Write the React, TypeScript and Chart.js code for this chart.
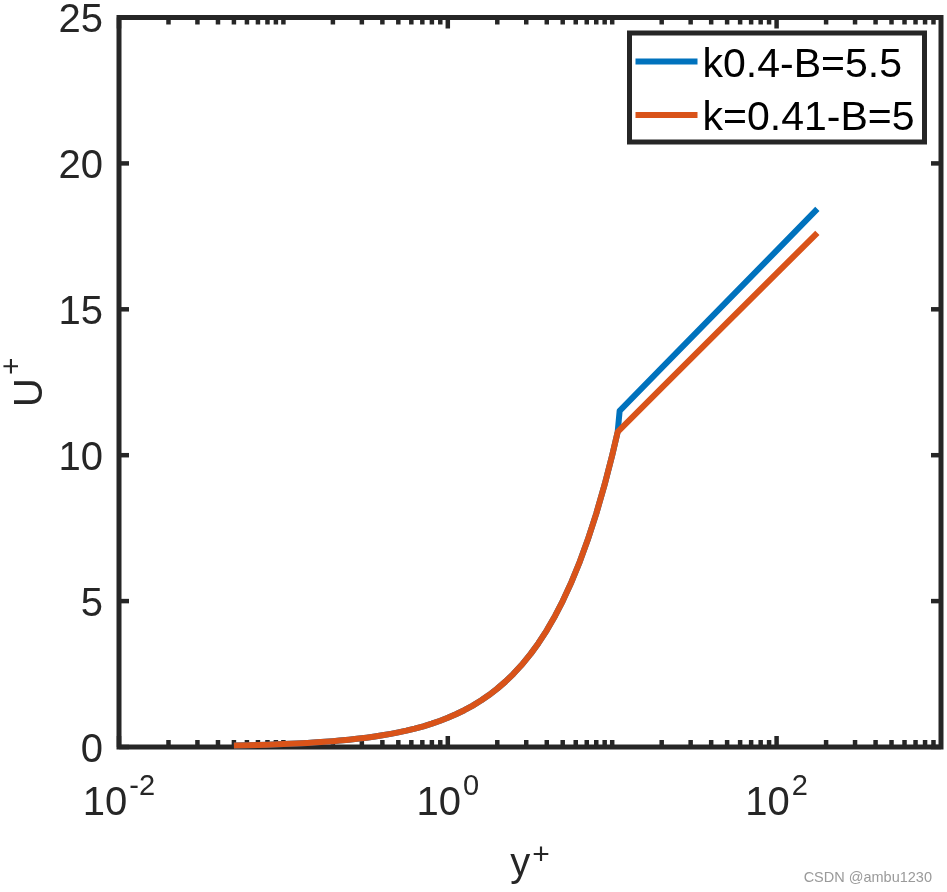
import React, { useEffect, useRef } from "react";
import { Chart, registerables } from "chart.js";

Chart.register(...registerables);

// ---- data ----
// viscous sublayer part, shared by both curves
const yPlusSub = [0.05, 0.06, 0.07, 0.08, 0.1, 0.12, 0.14, 0.16, 0.2, 0.22, 0.25, 0.28, 0.32, 0.36, 0.4, 0.45, 0.5, 0.56, 0.63, 0.71, 0.8, 0.9, 1, 1.12, 1.26, 1.41, 1.6, 1.78, 2, 2.24, 2.5, 2.8, 3.2, 3.55, 4, 4.5, 5, 5.6, 6.3, 7.1, 8, 9, 10, 10.8];
const uPlusSub = [0.05, 0.06, 0.07, 0.08, 0.1, 0.12, 0.14, 0.16, 0.2, 0.22, 0.25, 0.28, 0.32, 0.36, 0.4, 0.45, 0.5, 0.56, 0.63, 0.71, 0.8, 0.9, 1, 1.12, 1.26, 1.41, 1.6, 1.78, 2, 2.24, 2.5, 2.8, 3.2, 3.55, 4, 4.5, 5, 5.6, 6.3, 7.1, 8, 9, 10, 10.8];
// log-law part, k=0.4, B=5.5
const yPlusLogA = [11.1, 20, 50, 100, 177];
const uPlusLogA = [11.52, 12.99, 15.28, 17.01, 18.44];
// log-law part, k=0.41, B=5
const yPlusLogB = [20, 50, 100, 177];
const uPlusLogB = [12.31, 14.54, 16.23, 17.62];

const seriesLabels = ["k0.4-B=5.5", "k=0.41-B=5"];
const seriesColors = ["#0072BD", "#D95319"];

const yTickValues = [0, 5, 10, 15, 20, 25];
const xMajorTickValues = [0.01, 1, 100];
const xMajorTickExponents = ["-2", "0", "2"];
const xDecades = [0.01, 0.1, 1, 10, 100];
const xMinorMultipliers = [1, 2, 3, 4, 5, 6, 7, 8, 9];

const xTitleMain = "y";
const xTitleSup = "+";
const yTitleMain = "U";
const yTitleSup = "+";
const watermark = "CSDN @ambu1230";

const FONT = '"Liberation Sans", Arial, Helvetica, sans-serif';
const AXIS = "#262626";

const pts = (xs: number[], ys: number[]) => xs.map((v, i) => ({ x: v, y: ys[i] }));

const matlabPlugin = {
  id: "matlabAxes",
  beforeDatasetsDraw(chart: any) {
    const { ctx, chartArea: a, scales } = chart;
    const x = scales.x;
    const y = scales.y;
    ctx.save();
    ctx.strokeStyle = AXIS;
    ctx.lineCap = "butt";
    ctx.lineWidth = 4.5;
    const line = (x1: number, y1: number, x2: number, y2: number) => {
      ctx.beginPath();
      ctx.moveTo(x1, y1);
      ctx.lineTo(x2, y2);
      ctx.stroke();
    };
    // x ticks (bottom + top)
    xDecades.forEach((d) => {
      xMinorMultipliers.forEach((m) => {
        const v = d * m;
        const px = x.getPixelForValue(v);
        const major = xMajorTickValues.some((t) => Math.abs(t - v) < 1e-9);
        const len = major ? 11 : 7;
        line(px, a.bottom, px, a.bottom - len);
        line(px, a.top, px, a.top + len);
      });
    });
    // y ticks (left + right)
    yTickValues.forEach((v) => {
      const py = y.getPixelForValue(v);
      line(a.left, py, a.left + 10, py);
      line(a.right, py, a.right - 10, py);
    });
    // box
    ctx.lineWidth = 5;
    ctx.lineJoin = "miter";
    ctx.strokeRect(a.left, a.top, a.right - a.left, a.bottom - a.top);

    // y tick labels
    ctx.fillStyle = AXIS;
    ctx.font = `40px ${FONT}`;
    ctx.textAlign = "right";
    ctx.textBaseline = "alphabetic";
    yTickValues.forEach((v) => {
      const py = y.getPixelForValue(v);
      ctx.fillText(String(v), a.left - 16, py + 14.5);
    });

    // x tick labels 10^n
    ctx.textAlign = "left";
    xMajorTickValues.forEach((v, i) => {
      const px = x.getPixelForValue(v);
      ctx.font = `40px ${FONT}`;
      const w1 = ctx.measureText("10").width;
      ctx.font = `29px ${FONT}`;
      const w2 = ctx.measureText(xMajorTickExponents[i]).width;
      const gap = 2;
      const start = px - (w1 + gap + w2) / 2;
      ctx.font = `40px ${FONT}`;
      ctx.fillText("10", start, 815);
      ctx.font = `29px ${FONT}`;
      ctx.fillText(xMajorTickExponents[i], start + w1 + gap, 795);
    });

    // x title
    {
      const cx = (a.left + a.right) / 2;
      ctx.font = `40px ${FONT}`;
      const w1 = ctx.measureText(xTitleMain).width;
      ctx.font = `30px ${FONT}`;
      const w2 = ctx.measureText(xTitleSup).width;
      const gap = 2;
      const start = cx - (w1 + gap + w2) / 2;
      ctx.font = `40px ${FONT}`;
      ctx.fillText(xTitleMain, start, 876);
      ctx.font = `30px ${FONT}`;
      ctx.fillText(xTitleSup, start + w1 + gap, 864);
    }

    // y title (rotated)
    {
      const cy = (a.top + a.bottom) / 2;
      ctx.save();
      ctx.translate(42, cy);
      ctx.rotate(-Math.PI / 2);
      ctx.font = `40px ${FONT}`;
      const w1 = ctx.measureText(yTitleMain).width;
      ctx.font = `30px ${FONT}`;
      const w2 = ctx.measureText(yTitleSup).width;
      const gap = 3;
      const start = -(w1 + gap + w2) / 2;
      ctx.font = `40px ${FONT}`;
      ctx.fillText(yTitleMain, start, 0);
      ctx.font = `30px ${FONT}`;
      ctx.fillText(yTitleSup, start + w1 + gap, -21.5);
      ctx.restore();
    }
    ctx.restore();
  },
  afterDraw(chart: any) {
    const { ctx, chartArea: a } = chart;
    ctx.save();
    // legend
    const lx1 = a.right - 16.5;
    const lx0 = 629.5;
    const ly0 = a.top + 15.5;
    const ly1 = ly0 + 109;
    ctx.fillStyle = "#ffffff";
    ctx.fillRect(lx0, ly0, lx1 - lx0, ly1 - ly0);
    ctx.strokeStyle = AXIS;
    ctx.lineWidth = 5;
    ctx.strokeRect(lx0, ly0, lx1 - lx0, ly1 - ly0);
    const rowY = [ly0 + 28.5, ly0 + 82];
    const baseY = [ly0 + 44, ly0 + 96.5];
    seriesLabels.forEach((lab, i) => {
      ctx.strokeStyle = seriesColors[i];
      ctx.lineWidth = 6;
      ctx.lineCap = "butt";
      ctx.beginPath();
      ctx.moveTo(lx0 + 6, rowY[i]);
      ctx.lineTo(lx0 + 68, rowY[i]);
      ctx.stroke();
      ctx.fillStyle = "#000000";
      ctx.font = `41px ${FONT}`;
      ctx.textAlign = "left";
      ctx.textBaseline = "alphabetic";
      ctx.fillText(lab, lx0 + 73, baseY[i]);
    });
    // watermark
    ctx.fillStyle = "#9a9a9a";
    ctx.font = `14.5px ${FONT}`;
    ctx.textAlign = "right";
    ctx.fillText(watermark, 932, 882);
    ctx.restore();
  },
};

export default function App() {
  const ref = useRef<HTMLCanvasElement | null>(null);
  useEffect(() => {
    if (!ref.current) return;
    const chart = new Chart(ref.current, {
      type: "scatter",
      data: {
        datasets: [
          {
            label: seriesLabels[0],
            data: [...pts(yPlusSub, uPlusSub), ...pts(yPlusLogA, uPlusLogA)],
            borderColor: seriesColors[0],
            backgroundColor: seriesColors[0],
            showLine: true,
            pointRadius: 0,
            borderWidth: 6,
            borderJoinStyle: "round",
            tension: 0,
            fill: false,
            clip: false,
            order: 1,
          },
          {
            label: seriesLabels[1],
            data: [...pts(yPlusSub, uPlusSub), ...pts(yPlusLogB, uPlusLogB)],
            borderColor: seriesColors[1],
            backgroundColor: seriesColors[1],
            showLine: true,
            pointRadius: 0,
            borderWidth: 6,
            borderJoinStyle: "round",
            tension: 0,
            fill: false,
            clip: false,
            order: 0,
          },
        ],
      },
      options: {
        animation: false,
        responsive: false,
        devicePixelRatio: 1,
        layout: { padding: { left: 119, right: 6, top: 17.5, bottom: 145 } },
        scales: {
          x: { type: "logarithmic", min: 0.01, max: 1000, display: false },
          y: { type: "linear", min: 0, max: 25, display: false },
        },
        plugins: {
          legend: { display: false },
          tooltip: { enabled: false },
        },
        events: [],
      },
      plugins: [matlabPlugin],
    } as any);
    return () => chart.destroy();
  }, []);
  return (
    <div style={{ position: "absolute", left: 0, top: 0, width: 947, height: 892, background: "#fff" }}>
      <canvas ref={ref} width={947} height={892} style={{ display: "block" }} />
    </div>
  );
}
